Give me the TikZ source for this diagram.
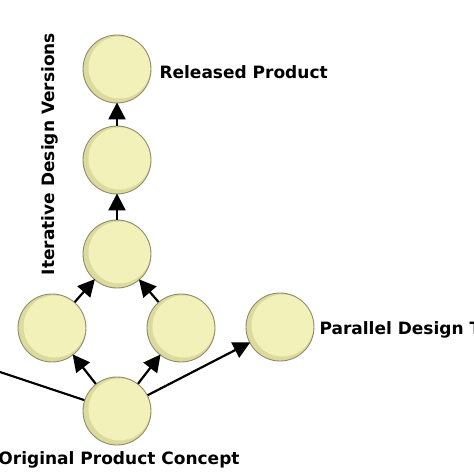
\documentclass[tikz,border=0pt]{standalone}
\usepackage{fontspec}
\setmainfont{DejaVu Sans}
\usetikzlibrary{arrows.meta}
\definecolor{rimc}{HTML}{DCDA9C}
\definecolor{fillc}{HTML}{F3F1BA}
\definecolor{edgec}{HTML}{8C8C70}
\tikzset{
  ver/.style={circle, minimum size=68pt, inner sep=0pt, fill=rimc, draw=edgec, line width=0.9pt,
    path picture={\fill[fillc] ([xshift=2.5pt,yshift=1.5pt]path picture bounding box.center) circle (31pt);}},
  lab/.style={font=\bfseries\fontsize{17}{20}\selectfont, text=black},
  arr/.style={line width=2.2pt, -{Triangle[length=17pt,width=17pt]}, shorten >=-1pt},
  ln/.style={line width=2.2pt}
}
\begin{document}
\begin{tikzpicture}[x=1pt,y=-1pt]
\useasboundingbox (0,0) rectangle (474,474);
\clip (0,0) rectangle (474,474);
\node[ver] (top) at (117,69) {};
\node[ver] (v2) at (117,160) {};
\node[ver] (v3) at (117,254) {};
\node[ver] (lm) at (52,328) {};
\node[ver] (rm) at (181,328) {};
\node[ver] (par) at (280,327) {};
\node[ver] (bot) at (117,411) {};
\coordinate (offl) at (-30,362);
\draw[ln] (bot) -- (offl);
\draw[arr] (bot) -- (lm);
\draw[arr] (bot) -- (rm);
\draw[arr] (bot) -- (par);
\draw[arr] (lm) -- (v3);
\draw[arr] (rm) -- (v3);
\draw[arr] (v3) -- (v2);
\draw[arr] (v2) -- (top);
\node[lab, anchor=west] (lrel) at (156,72) {Released Product};
\node[lab, anchor=west] (lpar) at (316,330) {Parallel Design Tracks};
\node[lab] (lorig) at (119,460) {Original Product Concept};
\node[lab, rotate=90] (liter) at (50,154) {Iterative Design Versions};
\end{tikzpicture}
\end{document}
